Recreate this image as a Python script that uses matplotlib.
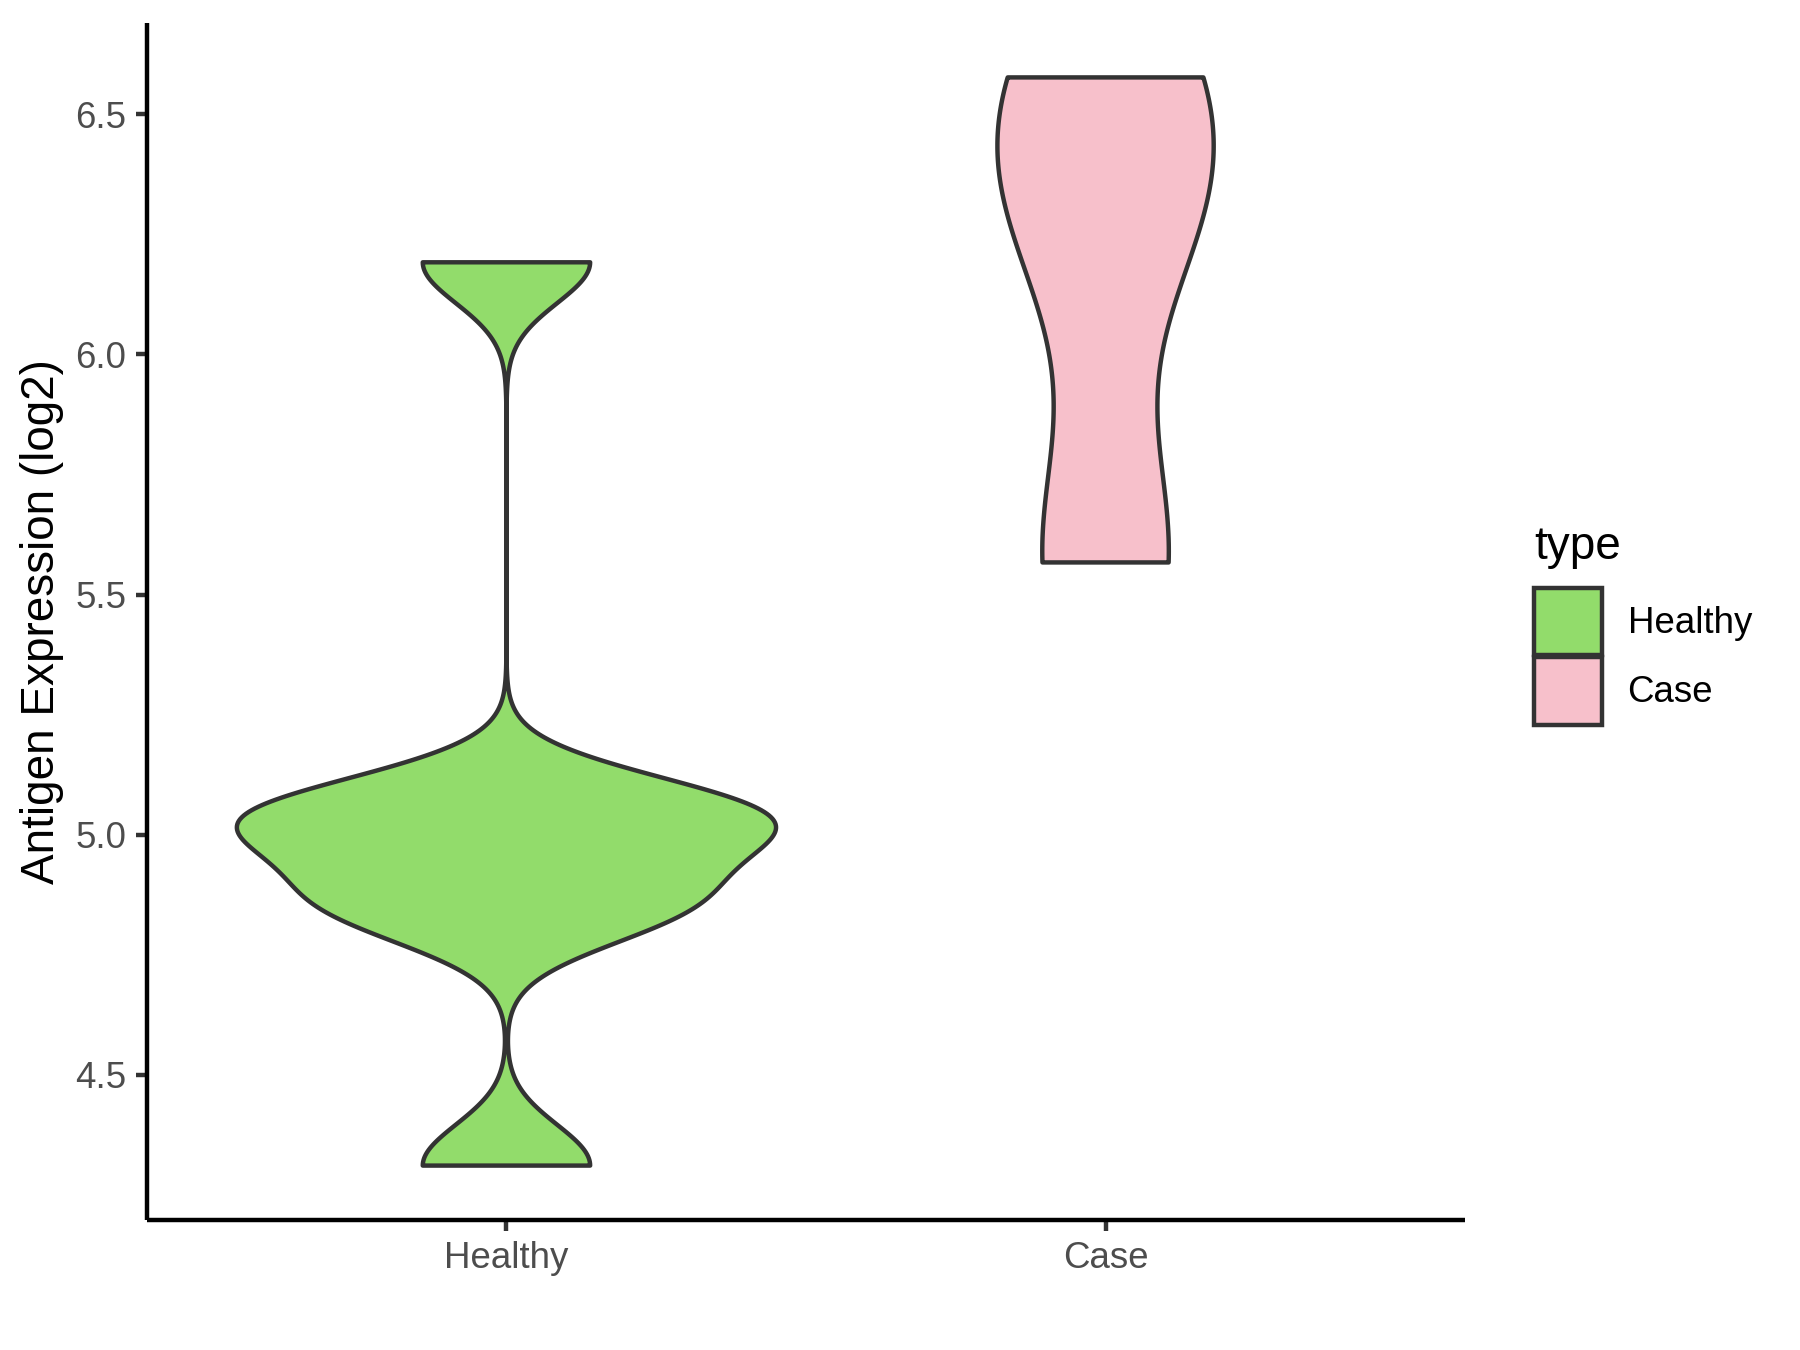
"""
Violin plot of antigen expression (log2), Healthy vs Case.
"""

import numpy as np
import matplotlib
matplotlib.use("Agg")
import matplotlib.pyplot as plt
from matplotlib.patches import Patch

# Data (estimated sample values behind each violin)
groups = ["Healthy", "Case"]
healthy_values = [4.311, 4.84, 4.87, 5.015, 5.035, 5.055, 6.192]
case_values = [5.567, 6.30, 6.577]
bandwidths = [0.085, 0.27]  # kernel bandwidth per group, like geom_violin(bw=)
fill_colors = ["#92DC6B", "#F7C0CB"]
y_ticks = [4.5, 5.0, 5.5, 6.0, 6.5]

OUTLINE = "#333333"
LW = 2.13


def gaussian_density(values, bw, grid):
    """Plain gaussian KDE evaluated on grid."""
    values = np.asarray(values, dtype=float)
    z = (grid[:, None] - values[None, :]) / bw
    return np.exp(-0.5 * z ** 2).sum(axis=1) / (len(values) * bw * np.sqrt(2 * np.pi))


plt.rcParams['font.family'] = ['Liberation Sans', 'DejaVu Sans']

fig = plt.figure(figsize=(12, 9), dpi=150)
ax = fig.add_axes([147 / 1800, 130 / 1350, (1465 - 147) / 1800, (1220 - 23) / 1350])

# densities trimmed to each group's range, scaled like ggplot's scale = "area"
samples = [healthy_values, case_values]
grids, dens = [], []
for vals, bw in zip(samples, bandwidths):
    g = np.linspace(min(vals), max(vals), 512)
    grids.append(g)
    dens.append(gaussian_density(vals, bw, g))
top = max(d.max() for d in dens)

for i, (g, d) in enumerate(zip(grids, dens)):
    pos = i + 1
    w = 0.45 * d / top
    xs = np.concatenate([pos - w, (pos + w)[::-1]])
    ys = np.concatenate([g, g[::-1]])
    ax.fill(xs, ys, facecolor=fill_colors[i], edgecolor=OUTLINE,
            linewidth=LW, joinstyle='round', zorder=2)

# ggplot default expansion: 5% continuous, 0.6 discrete
all_vals = np.concatenate([np.asarray(v) for v in samples])
lo, hi = all_vals.min(), all_vals.max()
pad = 0.05 * (hi - lo)
ax.set_ylim(lo - pad, hi + pad)
ax.set_xlim(0.4, len(groups) + 0.6)

ax.set_xticks(range(1, len(groups) + 1))
ax.set_xticklabels(groups)
ax.set_yticks(y_ticks)
ax.set_yticklabels([f"{t:.1f}" for t in y_ticks])
ax.set_ylabel("Antigen Expression (log2)", fontsize=22, color="black", labelpad=5.5)

for side in ["top", "right"]:
    ax.spines[side].set_visible(False)
for side in ["left", "bottom"]:
    ax.spines[side].set_color("black")
    ax.spines[side].set_linewidth(LW)
    ax.spines[side].set_capstyle('butt')
ax.tick_params(axis='both', length=5.5, width=LW, color=OUTLINE,
               labelsize=17.6, labelcolor="#4D4D4D", pad=4.4)

handles = [Patch(facecolor=c, edgecolor=OUTLINE, linewidth=LW) for c in fill_colors]
leg = fig.legend(handles, groups, title="type", loc="center left",
                 bbox_to_anchor=(1511 / 1800, 1 - 625 / 1350), frameon=False,
                 fontsize=17.6, title_fontsize=22, handlelength=1.85, handleheight=2.47,
                 handletextpad=0.7, labelspacing=0.05, borderpad=0.63, borderaxespad=0,
                 alignment='left')
# a bit more room between the legend title and the keys
leg._legend_box.sep = 9

fig.savefig("out.png", dpi=150)
